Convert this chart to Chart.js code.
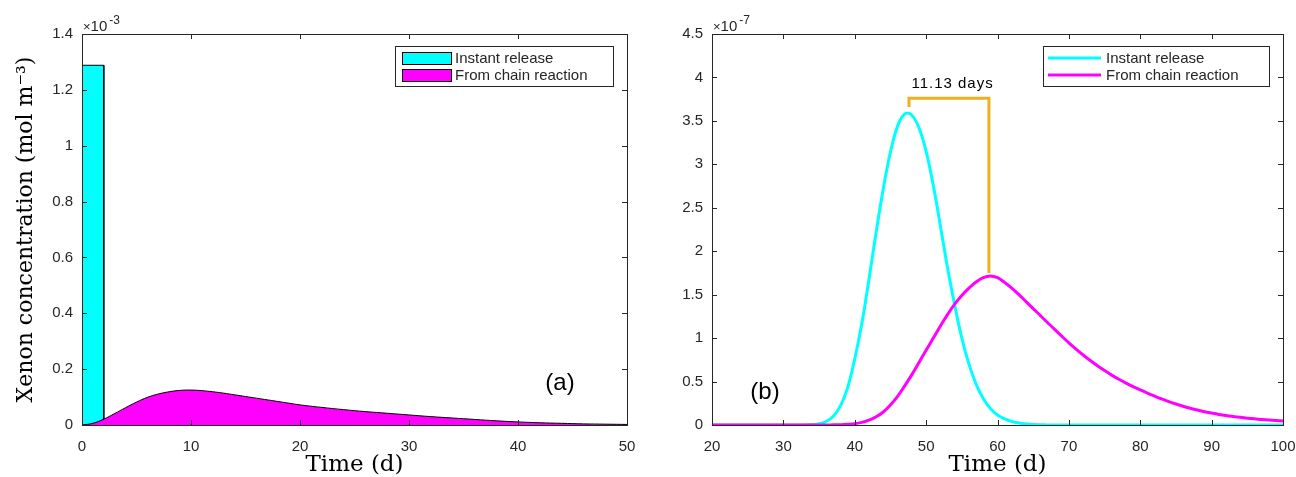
<!DOCTYPE html>
<html><head><meta charset="utf-8">
<script src="https://cdn.jsdelivr.net/npm/chart.js@4"></script>
<style>
html,body{margin:0;padding:0;background:#fff;}
#wrap{position:relative;width:1296px;height:477px;overflow:hidden;background:#fff;}
canvas{position:absolute;top:0;}
#ca{left:0;} #cb{left:660px;}
</style></head><body>
<div id="wrap"><canvas id="ca" width="660" height="477"></canvas><canvas id="cb" width="636" height="477"></canvas></div>
<script>
// ---------- data ----------
const seriesNames = ['Instant release', 'From chain reaction'];

// Panel (a): values in units of 1e-3 mol m^-3
const instantStartA = [0];
const instantEndA = [2];
const instantValueA = [1.288];
const chainTimeA  = [0, 1, 2, 3, 4, 5, 6, 7, 8, 9, 10, 11, 12, 13, 14, 15, 16, 17, 18, 19, 20, 22, 24, 26, 28, 30, 32, 34, 36, 38, 40, 42, 44, 46, 48, 50];
const chainValueA = [0, 0.006, 0.021, 0.041, 0.062, 0.082, 0.099, 0.111, 0.119, 0.124, 0.125, 0.123, 0.119, 0.114, 0.108, 0.102, 0.096, 0.090, 0.084, 0.078, 0.072, 0.063, 0.055, 0.048, 0.042, 0.036, 0.030, 0.025, 0.020, 0.015, 0.011, 0.008, 0.006, 0.004, 0.003, 0.002];
const xTicksA = [0, 10, 20, 30, 40, 50];
const xTickLabelsA = ['0', '10', '20', '30', '40', '50'];
const yTicksA = [0, 0.2, 0.4, 0.6, 0.8, 1, 1.2, 1.4];
const yTickLabelsA = ['0', '0.2', '0.4', '0.6', '0.8', '1', '1.2', '1.4'];
const exponentA = '-3';

// Panel (b): values in units of 1e-7
const timeB = [20, 21, 22, 23, 24, 25, 26, 27, 28, 29, 30, 31, 32, 33, 34, 35, 36, 37, 38, 39, 40, 41, 42, 43, 44, 45, 46, 47, 48, 49, 50, 51, 52, 53, 54, 55, 56, 57, 58, 59, 60, 61, 62, 63, 64, 65, 66, 67, 68, 69, 70, 71, 72, 73, 74, 75, 76, 77, 78, 79, 80, 81, 82, 83, 84, 85, 86, 87, 88, 89, 90, 91, 92, 93, 94, 95, 96, 97, 98, 99, 100];
const instantB = [0, 0, 0, 0, 0, 0, 0, 0, 0, 0, 0, 0, 0, 0, 0.005, 0.015, 0.04, 0.1, 0.22, 0.43, 0.76, 1.17, 1.68, 2.22, 2.72, 3.14, 3.44, 3.58, 3.565, 3.42, 3.15, 2.76, 2.29, 1.81, 1.38, 1.0, 0.7, 0.47, 0.305, 0.19, 0.115, 0.07, 0.04, 0.023, 0.012, 0.006, 0.003, 0.001, 0, 0, 0, 0, 0, 0, 0, 0, 0, 0, 0, 0, 0, 0, 0, 0, 0, 0, 0, 0, 0, 0, 0, 0, 0, 0, 0, 0, 0, 0, 0, 0, 0];
const chainB = [0, 0, 0, 0, 0, 0, 0, 0, 0, 0, 0, 0, 0, 0, 0, 0, 0, 0.002, 0.004, 0.008, 0.015, 0.03, 0.055, 0.095, 0.15, 0.23, 0.33, 0.45, 0.58, 0.72, 0.86, 1.0, 1.14, 1.27, 1.39, 1.49, 1.575, 1.645, 1.695, 1.715, 1.695, 1.64, 1.575, 1.5, 1.42, 1.34, 1.26, 1.18, 1.1, 1.022, 0.946, 0.874, 0.806, 0.742, 0.682, 0.626, 0.574, 0.526, 0.482, 0.441, 0.403, 0.367, 0.333, 0.3, 0.27, 0.242, 0.216, 0.193, 0.172, 0.153, 0.137, 0.122, 0.109, 0.098, 0.088, 0.079, 0.071, 0.064, 0.058, 0.052, 0.047];
const xTicksB = [20, 30, 40, 50, 60, 70, 80, 90, 100];
const xTickLabelsB = ['20', '30', '40', '50', '60', '70', '80', '90', '100'];
const yTicksB = [0, 0.5, 1, 1.5, 2, 2.5, 3, 3.5, 4, 4.5];
const yTickLabelsB = ['0', '0.5', '1', '1.5', '2', '2.5', '3', '3.5', '4', '4.5'];
const exponentB = '-7';
// delay annotation between the two peaks
const bracketX = [47.6, 47.6, 58.8, 58.8];
const bracketY = [3.66, 3.76, 3.76, 1.75];
const delayLabel = '11.13 days';
const delayLabelPos = [53.7, 3.93];

// ---------- helpers ----------
const INK = '#262626';
const SANS = '"Liberation Sans", Arial, sans-serif';
const SERIF = '"DejaVu Serif", serif';
const CYAN = '#00FFFF', MAGENTA = '#FF00FF', ORANGE = '#EDB120';

function pts(xs, ys) { return xs.map((x, i) => ({ x: x, y: ys[i] })); }
function barPts(s, e, v) {
  const out = [];
  for (let i = 0; i < s.length; i++) {
    out.push({ x: s[i], y: 0 }, { x: s[i], y: v[i] }, { x: e[i], y: v[i] }, { x: e[i], y: 0 });
  }
  return out;
}

function frameAndTicks(chart, xt, yt) {
  const { ctx, chartArea: a, scales } = chart;
  const L = 5;
  ctx.save();
  ctx.strokeStyle = INK;
  ctx.lineWidth = 1;
  ctx.beginPath();
  xt.forEach(v => {
    const px = Math.round(scales.x.getPixelForValue(v)) + 0.5;
    ctx.moveTo(px, a.bottom); ctx.lineTo(px, a.bottom - L);
    ctx.moveTo(px, a.top); ctx.lineTo(px, a.top + L);
  });
  yt.forEach(v => {
    const py = Math.round(scales.y.getPixelForValue(v)) + 0.5;
    ctx.moveTo(a.left, py); ctx.lineTo(a.left + L, py);
    ctx.moveTo(a.right, py); ctx.lineTo(a.right - L, py);
  });
  ctx.stroke();
  ctx.strokeRect(Math.round(a.left) + 0.5, Math.round(a.top) + 0.5, Math.round(a.right - a.left), Math.round(a.bottom - a.top));
  ctx.restore();
}

function exponentLabel(chart, exp) {
  const { ctx, chartArea: a } = chart;
  ctx.save();
  ctx.fillStyle = INK;
  ctx.textBaseline = 'alphabetic';
  ctx.textAlign = 'left';
  ctx.font = '13px ' + SANS;
  let x = a.left + 1;
  ctx.fillText('\u00D7', x, a.top - 3);
  x += ctx.measureText('\u00D7').width;
  ctx.font = '15px ' + SANS;
  ctx.fillText('10', x, a.top - 3);
  x += ctx.measureText('10').width + 2;
  ctx.font = '12px ' + SANS;
  ctx.fillText(exp, x, a.top - 10);
  ctx.restore();
}

function legendBox(chart, kind) {
  const { ctx, chartArea: a } = chart;
  const right = a.right - 14, top = 46, w = kind === 'patch' ? 218 : 226, h = 40;
  const left = right - w;
  ctx.save();
  ctx.fillStyle = '#fff';
  ctx.fillRect(left, top, w, h);
  ctx.strokeStyle = INK;
  ctx.lineWidth = 1;
  ctx.strokeRect(Math.round(left) + 0.5, top + 0.5, w, h);
  const rows = [58, 75];
  const colors = [CYAN, MAGENTA];
  ctx.font = '15px ' + SANS;
  ctx.textBaseline = 'middle';
  ctx.textAlign = 'left';
  rows.forEach((ry, i) => {
    if (kind === 'patch') {
      ctx.fillStyle = colors[i];
      ctx.fillRect(left + 7, ry - 6, 49, 12);
      ctx.strokeStyle = '#000';
      ctx.strokeRect(Math.round(left + 7) + 0.5, ry - 6 + 0.5, 49, 12);
      ctx.fillStyle = INK;
      ctx.fillText(seriesNames[i], left + 60, ry + 1);
    } else {
      ctx.strokeStyle = colors[i];
      ctx.lineWidth = 3;
      ctx.beginPath();
      ctx.moveTo(left + 5, ry); ctx.lineTo(left + 58, ry);
      ctx.stroke();
      ctx.fillStyle = INK;
      ctx.fillText(seriesNames[i], left + 63, ry + 1);
    }
  });
  ctx.restore();
}

function panelTag(chart, text, px, py) {
  const { ctx } = chart;
  ctx.save();
  ctx.fillStyle = '#000';
  ctx.font = '24px ' + SANS;
  ctx.textAlign = 'center';
  ctx.textBaseline = 'middle';
  ctx.fillText(text, px, py);
  ctx.restore();
}

function fixedTicks(vals) { return s => { s.ticks = vals.map(v => ({ value: v })); }; }

function baseScales(xmin, xmax, xt, xl, ymin, ymax, yt, yl, yWidth, yTitle) {
  return {
    x: {
      type: 'linear', min: xmin, max: xmax,
      afterBuildTicks: fixedTicks(xt),
      afterFit: s => { s.height = 52; s.paddingLeft = 0; s.paddingRight = 0; },
      grid: { display: false, drawTicks: false },
      border: { display: false },
      ticks: { color: INK, font: { family: SANS, size: 15 }, padding: 13, maxRotation: 0, autoSkip: false,
        callback: (v, i) => xl[i] },
      title: { display: true, text: 'Time (d)', color: '#000', font: { family: SERIF, size: 23, lineHeight: 1 }, padding: { top: 0, bottom: 0 } }
    },
    y: {
      type: 'linear', min: ymin, max: ymax,
      afterBuildTicks: fixedTicks(yt),
      afterFit: s => { s.width = yWidth; s.paddingTop = 0; s.paddingBottom = 0; },
      grid: { display: false, drawTicks: false },
      border: { display: false },
      ticks: { color: INK, font: { family: SANS, size: 15 }, padding: 9, autoSkip: false,
        callback: (v, i) => yl[i] },
      title: { display: !!yTitle, text: yTitle || '', color: '#000', font: { family: SERIF, size: 22, lineHeight: 1 }, padding: { top: 15, bottom: 0 } }
    }
  };
}

Chart.defaults.animation = false;
Chart.defaults.events = [];
Chart.defaults.plugins.legend.display = false;
Chart.defaults.plugins.tooltip.enabled = false;

// ---------- panel (a) ----------
new Chart(document.getElementById('ca'), {
  type: 'line',
  data: {
    datasets: [
      { label: seriesNames[1], data: pts(chainTimeA, chainValueA), fill: 'origin', backgroundColor: MAGENTA,
        borderColor: '#000', borderWidth: 1, pointRadius: 0, tension: 0.4, order: 1 },
      { label: seriesNames[0], data: barPts(instantStartA, instantEndA, instantValueA), fill: 'origin', backgroundColor: CYAN,
        borderColor: '#000', borderWidth: 1, pointRadius: 0, tension: 0, order: 2 }
    ]
  },
  options: {
    responsive: false,
    devicePixelRatio: 1,
    layout: { padding: { top: 34, right: 33, bottom: 0, left: 0 } },
    scales: baseScales(0, 50, xTicksA, xTickLabelsA, 0, 1.4, yTicksA, yTickLabelsA, 82, 'Xenon concentration (mol m\u207B\u00B3)')
  },
  plugins: [{
    id: 'decorA',
    afterDatasetsDraw(chart) { frameAndTicks(chart, xTicksA, yTicksA); },
    afterDraw(chart) {
      exponentLabel(chart, exponentA);
      legendBox(chart, 'patch');
      panelTag(chart, '(a)', 560, 383);
    }
  }]
});

// ---------- panel (b) ----------
new Chart(document.getElementById('cb'), {
  type: 'line',
  data: {
    datasets: [
      { label: 'delay', data: pts(bracketX, bracketY), borderColor: ORANGE, borderWidth: 3, pointRadius: 0, tension: 0, fill: false, order: 0 },
      { label: seriesNames[1], data: pts(timeB, chainB), borderColor: MAGENTA, borderWidth: 3, pointRadius: 0,
        tension: 0.4, fill: false, order: 1 },
      { label: seriesNames[0], data: pts(timeB, instantB), borderColor: CYAN, borderWidth: 3, pointRadius: 0,
        tension: 0.4, fill: false, order: 2 }
    ]
  },
  options: {
    responsive: false,
    devicePixelRatio: 1,
    layout: { padding: { top: 34, right: 13, bottom: 0, left: 0 } },
    scales: baseScales(20, 100, xTicksB, xTickLabelsB, 0, 4.5, yTicksB, yTickLabelsB, 52, '')
  },
  plugins: [{
    id: 'decorB',
    afterDatasetsDraw(chart) { frameAndTicks(chart, xTicksB, yTicksB); },
    afterDraw(chart) {
      const { ctx, scales } = chart;
      exponentLabel(chart, exponentB);
      legendBox(chart, 'line');
      ctx.save();
      ctx.fillStyle = '#000';
      ctx.font = '15px ' + SANS;
      ctx.letterSpacing = '1px';
      ctx.textAlign = 'center';
      ctx.textBaseline = 'middle';
      ctx.fillText(delayLabel, scales.x.getPixelForValue(delayLabelPos[0]), scales.y.getPixelForValue(delayLabelPos[1]));
      ctx.restore();
      panelTag(chart, '(b)', 765 - 660, 392);
    }
  }]
});
</script>
</body></html>
